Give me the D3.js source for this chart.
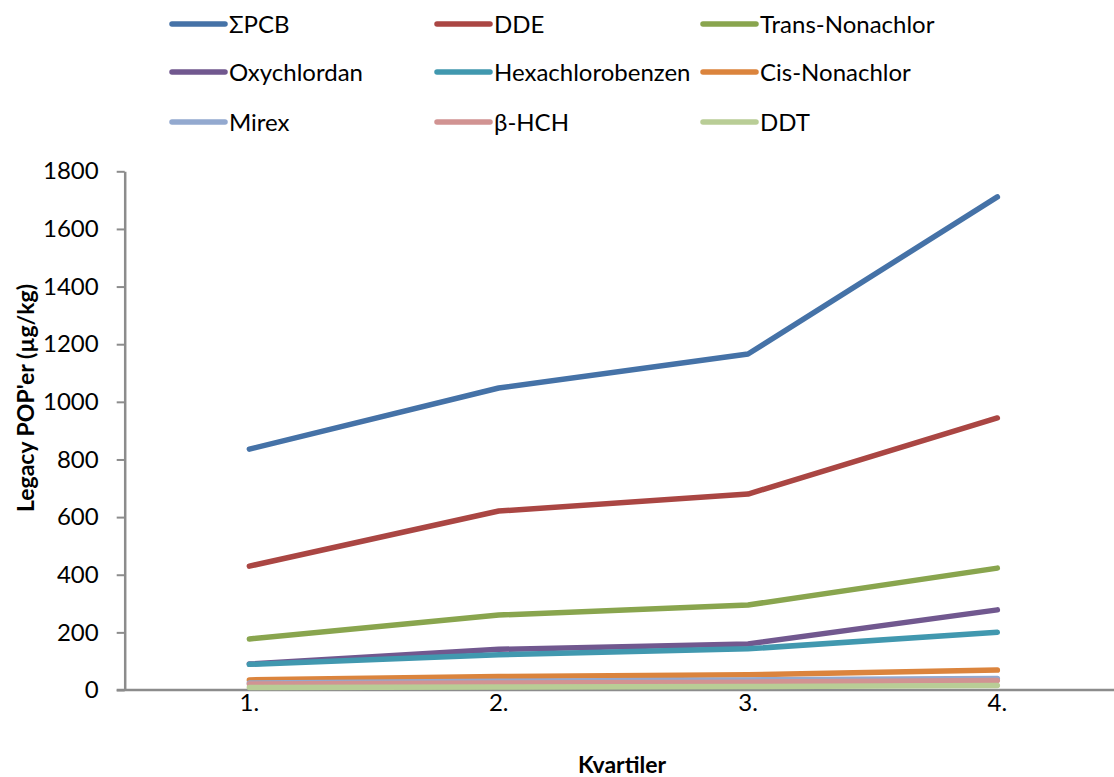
<!DOCTYPE html>
<html>
<head>
<meta charset="utf-8">
<script src="https://cdn.jsdelivr.net/npm/d3@7"></script>
<style>
  body { margin: 0; background: #fff; }
  svg text { font-family: Lato, "Open Sans", sans-serif; fill: #000; }
</style>
</head>
<body>
<div id="chart"></div>
<script>
// data
const quartiles = ["1.", "2.", "3.", "4."];
const seriesNames = ["ΣPCB", "DDE", "Trans-Nonachlor", "Oxychlordan", "Hexachlorobenzen", "Cis-Nonachlor", "Mirex", "β-HCH", "DDT"];
const pcb = [836, 1048, 1166, 1711];
const dde = [430, 621, 680, 944];
const transNonachlor = [177, 260, 295, 423];
const oxychlordan = [90, 141, 160, 278];
const hexachlorobenzen = [89, 122, 143, 200];
const cisNonachlor = [35, 47, 53, 69];
const mirex = [24, 30, 35, 40];
const betaHCH = [21, 24, 27, 33];
const ddt = [9, 10, 12, 16];
const yTicks = [0, 200, 400, 600, 800, 1000, 1200, 1400, 1600, 1800];

const seriesValues = [pcb, dde, transNonachlor, oxychlordan, hexachlorobenzen, cisNonachlor, mirex, betaHCH, ddt];
const colors = ["#4572A7", "#AA4643", "#89A54E", "#71588F", "#4198AF", "#DB843D", "#93A9CF", "#D19392", "#B9CD96"];

const width = 1114, height = 777;
// plot area (right side runs a little past the picture edge, like the original)
const plot = {left: 124.7, right: 1122, top: 171.3, bottom: 690};

const svg = d3.select("#chart")
    .append("svg")
    .attr("width", width)
    .attr("height", height);

let x = d3.scaleBand()
    .domain(quartiles)
    .range([plot.left, plot.right]);

let y = d3.scaleLinear()
    .domain([0, 1800])
    .range([plot.bottom, plot.top]);

// y axis
let yAxis = svg.append("g")
    .attr("transform", "translate(" + plot.left + ",0)")
    .call(d3.axisLeft(y).tickValues(yTicks).tickFormat(d3.format("d"))
        .tickSize(8).tickPadding(18).tickSizeOuter(0));
yAxis.select(".domain").attr("stroke", "#8c8c8c").attr("stroke-width", 2.5);
yAxis.selectAll(".tick line").attr("stroke", "#8c8c8c").attr("stroke-width", 2);
yAxis.selectAll(".tick text")
    .style("font-size", "24px")
    .attr("font-family", null);

// x axis
let xAxis = svg.append("g")
    .attr("transform", "translate(0," + plot.bottom + ")")
    .call(d3.axisBottom(x).tickSize(0).tickPadding(4).tickSizeOuter(0));
xAxis.select(".domain").attr("stroke", "#8c8c8c").attr("stroke-width", 2.5)
    .attr("d", "M" + (plot.left - 8) + ",0H" + plot.right);
xAxis.selectAll(".tick text")
    .style("font-size", "24px")
    .attr("font-family", null);

// lines
let line = d3.line()
    .x(function (d, i) { return x(quartiles[i]) + x.bandwidth() / 2; })
    .y(function (d) { return y(d); });

svg.append("g")
    .selectAll("path")
    .data(seriesValues)
    .enter()
    .append("path")
    .attr("d", line)
    .attr("fill", "none")
    .attr("stroke", function (d, i) { return colors[i]; })
    .attr("stroke-width", 5.5)
    .attr("stroke-linecap", "round")
    .attr("stroke-linejoin", "round");

// axis titles
svg.append("text")
    .attr("transform", "translate(34,398) rotate(-90)")
    .attr("text-anchor", "middle")
    .style("font-size", "23px")
    .style("font-weight", "bold")
    .text("Legacy POP'er (µg/kg)");

svg.append("text")
    .attr("x", 622)
    .attr("y", 773)
    .attr("text-anchor", "middle")
    .style("font-size", "23px")
    .style("font-weight", "bold")
    .text("Kvartiler");

// legend, 3 columns
const legendCols = [172, 437, 703];
const legendRows = [24, 72, 122];
let legend = svg.append("g")
    .selectAll("g")
    .data(seriesNames)
    .enter()
    .append("g")
    .attr("transform", function (d, i) {
        return "translate(" + legendCols[i % 3] + "," + legendRows[Math.floor(i / 3)] + ")";
    });
legend.append("line")
    .attr("x1", 0).attr("x2", 53)
    .attr("stroke", function (d, i) { return colors[i]; })
    .attr("stroke-width", 5.5)
    .attr("stroke-linecap", "round");
legend.append("text")
    .attr("x", 57)
    .attr("y", 8.5)
    .style("font-size", "24px")
    .text(function (d) { return d; });
</script>
</body>
</html>
